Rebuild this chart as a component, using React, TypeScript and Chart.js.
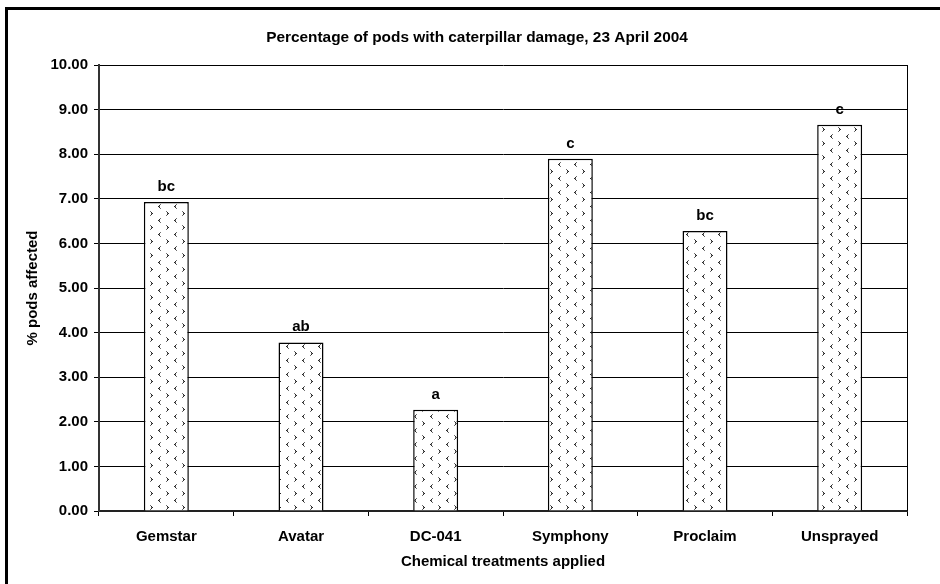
import React, { useEffect, useRef } from "react";
import { Chart, registerables } from "chart.js";

Chart.register(...registerables);

const categories = ["Gemstar", "Avatar", "DC-041", "Symphony", "Proclaim", "Unsprayed"];
const podsAffected = [6.93, 3.78, 2.27, 7.9, 6.28, 8.66];
const significance = ["bc", "ab", "a", "c", "bc", "c"];
const yMin = 0;
const yMax = 10;
const yStep = 1;
const chartTitle = "Percentage of pods with caterpillar damage, 23 April 2004";
const xTitle = "Chemical treatments applied";
const yTitle = "% pods affected";

const FONT = "'Liberation Sans', Arial, sans-serif";

function makePattern(ctx: CanvasRenderingContext2D): CanvasPattern | string {
  const c = document.createElement("canvas");
  c.width = 16;
  c.height = 14;
  const g = c.getContext("2d");
  if (!g) return "#fff";
  g.fillStyle = "#ffffff";
  g.fillRect(0, 0, 16, 14);
  const dark = "#262626";
  const mid = "#707070";
  const right: [number, number, string][] = [
    [0, 0, mid], [1, 1, dark], [2, 2, dark], [1, 2, mid], [1, 3, dark], [0, 4, mid],
  ];
  const left: [number, number, string][] = [
    [2, 0, mid], [1, 1, dark], [0, 2, dark], [1, 2, mid], [1, 3, dark], [2, 4, mid],
  ];
  right.forEach(([x, y, col]) => {
    g.fillStyle = col;
    g.fillRect(6 + x, 1 + y, 1, 1);
  });
  left.forEach(([x, y, col]) => {
    g.fillStyle = col;
    g.fillRect((14 + x) % 16, 8 + y, 1, 1);
  });
  return ctx.createPattern(c, "repeat") || "#fff";
}

const framePlugin = {
  id: "framePlugin",
  afterDraw(chart: any) {
    const { ctx, chartArea } = chart;
    ctx.save();
    // outer border
    ctx.fillStyle = "#000";
    ctx.fillRect(5, 7, 3, 584);
    ctx.fillRect(5, 7, 940, 3);
    // plot right border
    ctx.strokeStyle = "#000";
    ctx.lineWidth = 1;
    ctx.beginPath();
    ctx.moveTo(Math.round(chartArea.right) + 0.5, chartArea.top);
    ctx.lineTo(Math.round(chartArea.right) + 0.5, chartArea.bottom);
    ctx.stroke();
    // title
    ctx.fillStyle = "#000";
    ctx.font = `bold 15.4px ${FONT}`;
    ctx.textAlign = "center";
    ctx.textBaseline = "middle";
    ctx.fillText(chartTitle, 477, 38);
    // significance letters
    ctx.font = `bold 15px ${FONT}`;
    const meta = chart.getDatasetMeta(0);
    ctx.textBaseline = "alphabetic";
    meta.data.forEach((bar: any, i: number) => {
      ctx.fillText(significance[i], bar.x, bar.y - 11);
    });
    ctx.restore();
  },
};

export default function App() {
  const ref = useRef<HTMLCanvasElement>(null);

  useEffect(() => {
    const canvas = ref.current;
    if (!canvas) return;
    const ctx = canvas.getContext("2d");
    if (!ctx) return;
    const pattern = makePattern(ctx);
    const chart = new Chart(canvas, {
      type: "bar",
      data: {
        labels: categories,
        datasets: [
          {
            data: podsAffected,
            backgroundColor: pattern as any,
            borderColor: "#000",
            borderWidth: 1.5,
            barPercentage: 0.334,
            categoryPercentage: 1,
          },
        ],
      },
      options: {
        animation: false,
        responsive: false,
        devicePixelRatio: 1,
        layout: { padding: { top: 65, right: 33, bottom: 0, left: 0 } },
        plugins: {
          legend: { display: false },
          tooltip: { enabled: false },
          title: { display: false },
        },
        scales: {
          x: {
            afterFit: (s: any) => {
              s.height = 73;
            },
            grid: {
              offset: true,
              drawOnChartArea: false,
              drawTicks: true,
              tickLength: 5,
              color: "#000",
            },
            border: { color: "#222", width: 2 },
            ticks: {
              color: "#000",
              font: { family: FONT, size: 15, weight: "bold" },
              padding: 12,
              maxRotation: 0,
            },
            title: {
              display: true,
              text: xTitle,
              color: "#000",
              font: { family: FONT, size: 15, weight: "bold" },
              padding: { top: 0, bottom: 13 },
            },
          },
          y: {
            min: yMin,
            max: yMax,
            afterFit: (s: any) => {
              s.width = 99;
            },
            grid: {
              color: "#000",
              lineWidth: 1,
              drawTicks: true,
              tickLength: 5,
            },
            border: { color: "#333", width: 2 },
            ticks: {
              stepSize: yStep,
              color: "#000",
              font: { family: FONT, size: 15, weight: "bold" },
              padding: 6,
              callback: (v: any) => Number(v).toFixed(2),
            },
            title: {
              display: true,
              text: yTitle,
              color: "#000",
              font: { family: FONT, size: 15, weight: "bold" },
              padding: { top: 24, bottom: 0 },
            },
          },
        },
      },
      plugins: [framePlugin],
    });
    return () => chart.destroy();
  }, []);

  return (
    <div style={{ position: "fixed", left: 0, top: 0, width: 940, height: 584, background: "#fff" }}>
      <canvas ref={ref} width={940} height={584} style={{ width: 940, height: 584, display: "block" }} />
    </div>
  );
}
